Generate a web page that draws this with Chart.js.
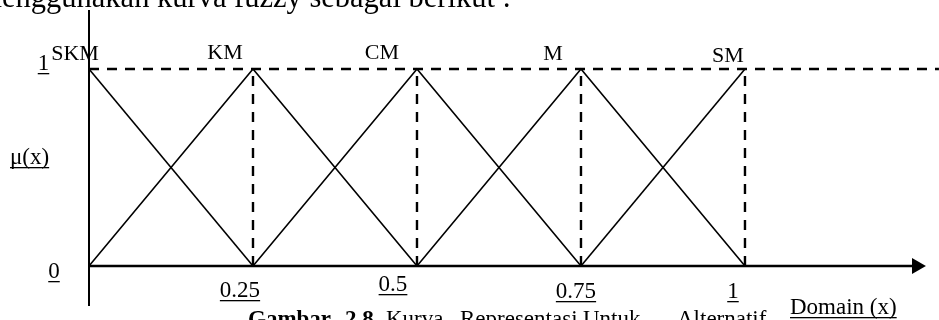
<!DOCTYPE html>
<html>
<head>
<meta charset="utf-8">
<script src="https://cdn.jsdelivr.net/npm/chart.js@4"></script>
<style>
  html, body { margin: 0; padding: 0; background: #fff; overflow: hidden; }
  #wrap { position: relative; width: 939px; height: 320px; }
</style>
</head>
<body>
<div id="wrap"><canvas id="fuzzyChart"></canvas></div>
<script>
// Membership sets (name, peak) and the corner points of each curve
const setNames = ['SKM', 'KM', 'CM', 'M', 'SM'];
const setPeaks = [0, 0.25, 0.5, 0.75, 1];
const skmPts = [[0, 1], [0.25, 0]];
const kmPts  = [[0, 0], [0.25, 1], [0.5, 0]];
const cmPts  = [[0.25, 0], [0.5, 1], [0.75, 0]];
const mPts   = [[0.5, 0], [0.75, 1], [1, 0]];
const smPts  = [[0.75, 0], [1, 1]];
const xTickValues = [0.25, 0.5, 0.75, 1];
const xTickLabels = ['0.25', '0.5', '0.75', '1'];
const yTickLabels = ['0', '1'];

// visible domain of the drawing (chart area stops ~9px short of the right edge)
const X_MIN = 0, X_MAX = 1.2816;
const Y_MIN = -0.203, Y_MAX = 1.2995;
const DASH_END = 1.2957;  // top dashed line runs to the page edge
const AXIS_END = 1.258;   // where the x-axis shaft stops
const ARROW_AT = 1.2617;  // arrow head centre

const SERIF = '"Liberation Serif", "Times New Roman", serif';
const toXY = pts => pts.map(([x, y]) => ({ x, y }));

const solid = (data, width) => ({
  data, showLine: true, borderColor: '#000', borderWidth: width,
  pointRadius: 0, clip: false, fill: false,
});
const dashed = (data) => ({ ...solid(data, 2.4), borderDash: [10, 8] });

const datasets = [
  // axes
  solid([{ x: 0, y: Y_MIN }, { x: 0, y: Y_MAX }], 2),
  solid([{ x: 0, y: 0 }, { x: AXIS_END, y: 0 }], 2.6),
  // top dashed line at mu = 1
  dashed([{ x: 0, y: 1 }, { x: DASH_END, y: 1 }]),
  // vertical dashed guides
  ...xTickValues.map(v => dashed([{ x: v, y: 0 }, { x: v, y: 1 }])),
  // membership curves
  ...[skmPts, kmPts, cmPts, mPts, smPts].map(p => solid(toXY(p), 1.6)),
  // arrow head
  {
    data: [{ x: ARROW_AT, y: 0 }], pointStyle: 'triangle', rotation: 90,
    pointRadius: 9.3, backgroundColor: '#000', borderColor: '#000', borderWidth: 0,
    clip: false, showLine: false,
  },
];

// text offsets, in pixels, relative to the value they label
const nameOffsets = [[-14, 60], [-28, 59], [-35, 59], [-28, 60], [-17, 62]];
const tickOffsets = [[-13, 297], [-24, 291], [-5, 298], [-12, 298]];

function underlined(ctx, text, cx, baseline, align = 'center') {
  ctx.textAlign = align;
  ctx.fillText(text, cx, baseline);
  const w = ctx.measureText(text).width;
  const x0 = align === 'center' ? cx - w / 2 : cx;
  ctx.fillRect(x0, baseline + 3, w, 1.3);
}

const textPlugin = {
  id: 'fuzzyText',
  afterDraw(chart) {
    const { ctx, scales: { x } } = chart;
    ctx.save();
    ctx.fillStyle = '#000';
    ctx.textBaseline = 'alphabetic';

    // page text above and below the figure
    ctx.font = `30.5px ${SERIF}`;
    ctx.textAlign = 'right';
    ctx.fillText('menggunakan kurva fuzzy sebagai berikut :', 511, 7);

    ctx.font = `bold 23px ${SERIF}`;
    ctx.textAlign = 'left';
    ctx.fillText('Gambar', 248, 326);
    ctx.fillText('2.8', 345, 326);
    ctx.font = `23px ${SERIF}`;
    ctx.fillText('Kurva', 386, 326);
    ctx.fillText('Representasi', 460, 326);
    ctx.fillText('Untuk', 583, 326);
    ctx.fillText('Alternatif', 677, 326);

    // set names above the peaks
    ctx.font = `22px ${SERIF}`;
    ctx.textAlign = 'center';
    setNames.forEach((n, i) => {
      const [dx, by] = nameOffsets[i];
      ctx.fillText(n, x.getPixelForValue(setPeaks[i]) + dx, by);
    });

    // x tick labels
    ctx.font = `23px ${SERIF}`;
    xTickLabels.forEach((t, i) => {
      const [dx, by] = tickOffsets[i];
      underlined(ctx, t, x.getPixelForValue(xTickValues[i]) + dx, by);
    });

    // y labels
    underlined(ctx, yTickLabels[1], 43.5, 70);
    underlined(ctx, yTickLabels[0], 54, 278);
    underlined(ctx, '\u03bc(x)', 10, 164, 'left');
    underlined(ctx, 'Domain (x)', 790, 314, 'left');
    ctx.restore();
  },
};

new Chart(document.getElementById('fuzzyChart'), {
  type: 'scatter',
  data: { datasets },
  options: {
    responsive: true,
    maintainAspectRatio: false,
    animation: false,
    layout: { padding: { left: 89, right: 0, top: 10, bottom: 14 } },
    plugins: { legend: { display: false }, tooltip: { enabled: false } },
    elements: { line: { tension: 0 } },
    scales: {
      x: { type: 'linear', min: X_MIN, max: X_MAX, display: false },
      y: { type: 'linear', min: Y_MIN, max: Y_MAX, display: false },
    },
  },
  plugins: [textPlugin],
});
</script>
</body>
</html>
